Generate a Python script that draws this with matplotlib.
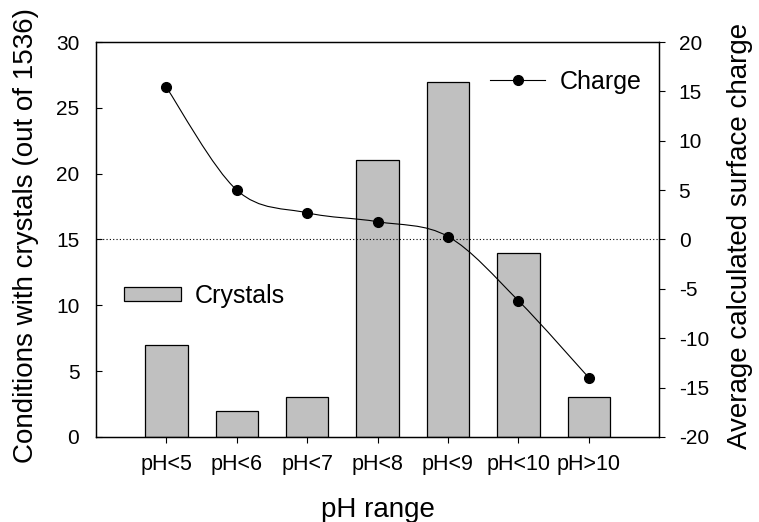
import numpy as np
import matplotlib.pyplot as plt
from matplotlib.path import Path
from matplotlib.patches import PathPatch
from matplotlib.lines import Line2D

plt.rcParams['font.family'] = ['Liberation Sans', 'DejaVu Sans']
plt.rcParams['axes.unicode_minus'] = False

ph_ranges = ['pH<5', 'pH<6', 'pH<7', 'pH<8', 'pH<9', 'pH<10', 'pH>10']
crystals = [7, 2, 3, 21, 27, 14, 3]
charge = [15.4, 5.0, 2.7, 1.8, 0.3, -6.2, -14.0]


def smooth_path(xs, ys):
    """Catmull-Rom curve through the points, as cubic Bezier segments."""
    pts = np.column_stack([xs, ys]).astype(float)
    ext = np.vstack([pts[0], pts, pts[-1]])
    verts = [pts[0]]
    codes = [Path.MOVETO]
    for i in range(1, len(ext) - 2):
        p0, p1, p2, p3 = ext[i - 1], ext[i], ext[i + 1], ext[i + 2]
        verts += [p1 + (p2 - p0) / 6, p2 - (p3 - p1) / 6, p2]
        codes += [Path.CURVE4] * 3
    return Path(verts, codes)


fig = plt.figure(figsize=(7.59, 5.22), dpi=100)
ax = fig.add_axes([0.1265, 0.163, 0.742, 0.7565])
ax2 = ax.twinx()

x = np.arange(1, len(ph_ranges) + 1)
ax.bar(x, crystals, width=0.6, color='#c0c0c0', edgecolor='black', linewidth=0.9,
       label='Crystals')
ax.set_xlim(0, len(ph_ranges) + 1)
ax.set_ylim(0, 30)
ax.set_yticks(range(0, 31, 5))
ax.set_xticks(x)
ax.set_xticklabels(ph_ranges, fontsize=15.5)
ax.tick_params(axis='y', direction='in', length=4, labelsize=15, pad=12)
ax.tick_params(axis='x', direction='out', length=4, pad=8)

ax2.set_ylim(-20, 20)
ax2.set_yticks(range(-20, 21, 5))
ax2.tick_params(axis='y', direction='out', length=4, labelsize=15, pad=10)
ax2.axhline(0, color='black', linestyle=(0, (1, 2)), linewidth=0.8)

ax2.add_patch(PathPatch(smooth_path(x, charge), facecolor='none',
                        edgecolor='black', linewidth=0.8))
ax2.plot(x, charge, linestyle='none', marker='o', color='black', markersize=7)

for a in (ax, ax2):
    for s in a.spines.values():
        s.set_linewidth(0.9)

# axis titles
fig.text(0.4975, 0.023, 'pH range', fontsize=20, ha='center', va='center')
fig.text(0.034, 0.548, 'Conditions with crystals (out of 1536)', fontsize=20,
         rotation=90, ha='center', va='center')
fig.text(0.975, 0.548, 'Average calculated surface charge', fontsize=20,
         rotation=90, ha='center', va='center')

charge_handle = Line2D([], [], color='black', linewidth=0.8, marker='o', markersize=7)
fig.legend([charge_handle], ['Charge'], loc='center left', frameon=False,
           bbox_to_anchor=(0.6456, 0.843), fontsize=18, handlelength=2.2,
           handletextpad=0.6, borderpad=0, borderaxespad=0)
bars_handle = ax.patches[0]
fig.legend([bars_handle], ['Crystals'], loc='center left', frameon=False,
           bbox_to_anchor=(0.163, 0.433), fontsize=18, handlelength=2.28,
           handleheight=0.48, handletextpad=0.56, borderpad=0, borderaxespad=0)

fig.savefig('out.png', dpi=100)
